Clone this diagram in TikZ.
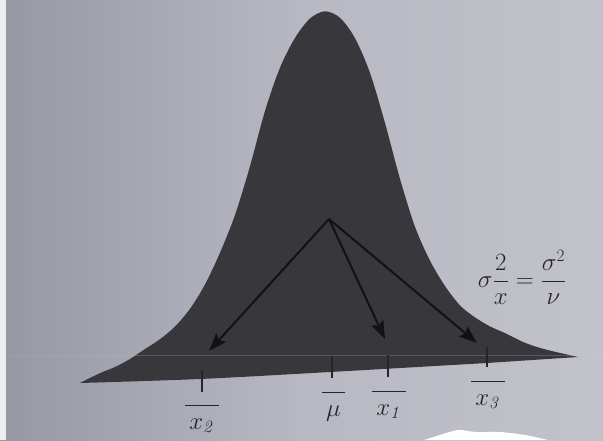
\documentclass[tikz,border=0pt]{standalone}
\usetikzlibrary{arrows.meta}
\definecolor{bgl}{RGB}{150,152,164}
\definecolor{bgm}{RGB}{183,184,194}
\definecolor{bgr}{RGB}{194,194,202}
\definecolor{curvec}{RGB}{56,56,60}
\definecolor{arrc}{RGB}{18,18,20}
\definecolor{labc}{RGB}{38,38,42}
\newcommand\barlab[2]{$\overline{\rule{0pt}{22.5pt}\mkern3mu #1_{#2}\mkern3mu}$}
\begin{document}
\begin{tikzpicture}[x=1pt,y=-1pt,
  lab/.style={text=labc,font=\fontsize{24}{28}\selectfont,inner sep=0pt,anchor=base},
  tickmark/.style={draw=labc,line width=1.8pt},
  arr/.style={draw=arrc,line width=2pt,-{Stealth[length=18pt,width=13pt,inset=3pt]}},
  bell/.style={insert path={
     plot[smooth,tension=0.5] coordinates {
       (80,383) (100,373.1) (115,367.0) (130,359.0) (145,349.0) (160,339.2)
       (175,326.5) (190,308.8) (205,284.5) (220,252.7) (235,215.0) (250,166.2)
       (265,110.9) (280,67.6) (295,37.9) (310,18.5) (325,11.3) (340,17.8)
       (355,38.2) (370,72.9) (385,123.0) (400,178.9) (415,226.8) (430,260.7)
       (445,286.0) (460,305.4) (475,317.4) (490,326.4) (505,333.1) (525,342.8)
       (545,349.3) (578,357)}
     -- plot[smooth,tension=0.5] coordinates {(487,363) (330,372) (200,379) (80,383)} -- cycle}}]
\useasboundingbox (0,0) rectangle (603,440);
% page background
\fill[left color=bgl,right color=bgr,middle color=bgm] (0,0) rectangle (603,440);
\fill[white!85!bgl] (0,0) rectangle (6,440);
% bell curve
\fill[curvec,bell];
\draw[white,opacity=0.06,line width=1pt] (6,355) -- (603,355);
\begin{scope}
  \clip[bell];
  \draw[white,opacity=0.12,line width=1pt] (0,355) -- (603,355);
\end{scope}
% bright patch at bottom
\fill[white] plot[smooth,tension=0.5] coordinates {(424,440) (440,435) (458,430) (476,432) (500,432) (525,435) (548,440)} -- cycle;
% ticks
\draw[tickmark] (202,370) -- (202,392);
\draw[tickmark] (332,356) -- (332,378);
\draw[tickmark] (388,355) -- (388,377);
\draw[tickmark] (487,347) -- (487,367);
% arrows
\coordinate (o) at (329,219);
\coordinate (t2) at (209,351);
\coordinate (t1) at (385,339);
\coordinate (t3) at (477,343);
\draw[arr] (o) -- (t2);
\draw[arr] (o) -- (t1);
\draw[arr] (o) -- (t3);
% labels
\node[lab] (lx2) at (202,429) {\barlab{x}{\mathit{2}}};
\node[lab] (lmu) at (333.5,416) {$\overline{\rule{0pt}{22.5pt}\mkern3mu \mu\mkern3mu}$};
\node[lab] (lx1) at (389,415) {\barlab{x}{\mathit{1}}};
\node[lab] (lx3) at (488,405) {\barlab{x}{\mathit{3}}};
% formula
\node[lab,font=\fontsize{27}{31}\selectfont] (form) at (522,287) {$\displaystyle\sigma\frac{2}{x}=\frac{\sigma^{2}}{\nu}$};
\end{tikzpicture}
\end{document}
